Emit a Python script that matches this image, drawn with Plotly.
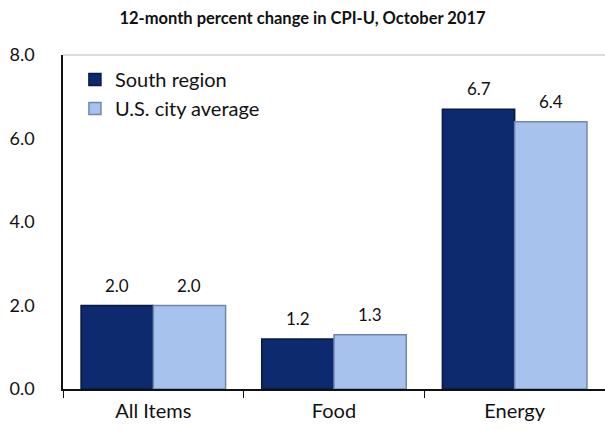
import plotly.graph_objects as go

# CPI-U 12-month percent change, October 2017
categories = ["All Items", "Food", "Energy"]
south_region = [2.0, 1.2, 6.7]
us_city_average = [2.0, 1.3, 6.4]
y_ticks = [0, 2, 4, 6, 8]
y_tick_labels = ["0.0", "2.0", "4.0", "6.0", "8.0"]

FONT = "Lato"
series = [
    ("South region", south_region, "#0E2A6E", "#061844", -36),
    ("U.S. city average", us_city_average, "#A7C2EC", "#6F87B0", 36),
]

fig = go.Figure()
annotations = []
for name, values, fill, edge, shift in series:
    fig.add_trace(go.Bar(
        name=name, x=categories, y=values,
        marker=dict(color=fill, line=dict(color=edge, width=1.5)),
        cliponaxis=False,
    ))
    # value labels sit a little higher above each bar than Plotly's default
    for cat, v in zip(categories, values):
        annotations.append(dict(
            x=cat, y=v, text=f"{v:.1f}", showarrow=False,
            xshift=shift, yshift=8, yanchor="bottom",
            font=dict(size=17, family=FONT, color="#111111"),
        ))

fig.update_layout(
    width=605, height=430,
    margin=dict(l=63, r=0, t=55, b=41),
    paper_bgcolor="white", plot_bgcolor="white",
    barmode="group", bargap=0.2, bargroupgap=0.0,
    font=dict(family=FONT, color="#111111"),
    title=dict(text="<b>12-month percent change in CPI-U, October 2017</b>",
               x=0.5, xanchor="center", y=0.958, yanchor="middle",
               font=dict(size=16.5, family=FONT, color="#111111")),
    legend=dict(x=0.022, y=0.985, xanchor="left", yanchor="top",
                font=dict(size=20, family=FONT, color="#111111"),
                bgcolor="rgba(0,0,0,0)", itemwidth=30, tracegroupgap=0),
    showlegend=True,
    annotations=annotations,
    # faint frame line along the top of the plotting area
    shapes=[dict(type="line", xref="paper", yref="paper", x0=0, x1=1, y0=1, y1=1,
                 line=dict(color="#BBBBBB", width=1))],
)
fig.update_xaxes(
    range=[-0.5, 2.5], showline=True, linecolor="#111111", linewidth=1.5,
    ticks="outside", tickson="boundaries", ticklen=7, tickcolor="#111111",
    tickfont=dict(size=20, family=FONT), showgrid=False, ticklabelstandoff=3,
)
fig.update_yaxes(
    range=[0, 8], tickvals=y_ticks, ticktext=y_tick_labels,
    showline=True, linecolor="#111111", linewidth=1.5, showgrid=False,
    ticks="", tickfont=dict(size=18, family=FONT), ticklabelstandoff=23,
    zeroline=False,
)

fig.write_html("out.html")
